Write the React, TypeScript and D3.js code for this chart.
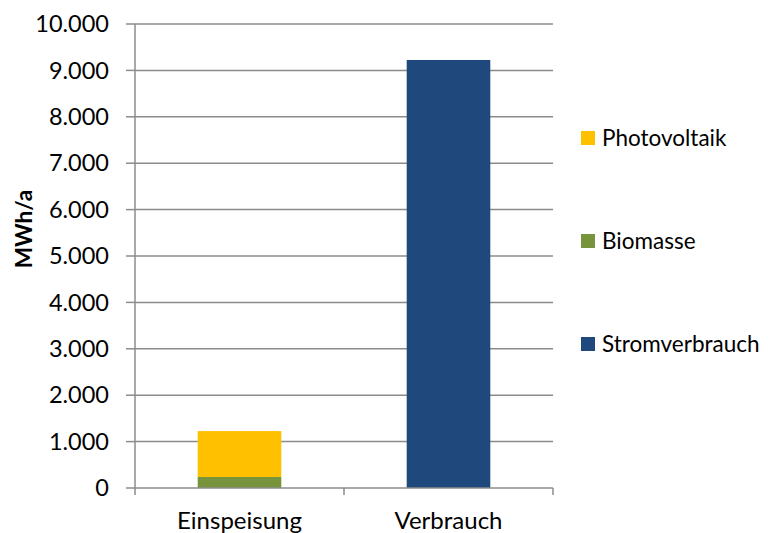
import React from 'react';
import * as d3 from 'd3';

// chart data
const categories = ['Einspeisung', 'Verbrauch'];
const seriesNames = ['Biomasse', 'Photovoltaik', 'Stromverbrauch'];
const biomasse = [237, 0];
const photovoltaik = [990, 0];
const stromverbrauch = [0, 9225];
const yTicks = [0, 1000, 2000, 3000, 4000, 5000, 6000, 7000, 8000, 9000, 10000];
const legendOrder = ['Photovoltaik', 'Biomasse', 'Stromverbrauch'];

const colors: Record<string, string> = {
  Biomasse: '#77933C',
  Photovoltaik: '#FFC000',
  Stromverbrauch: '#1F497D',
};

const W = 771;
const H = 533;
const left = 135;
const right = 553;
const top = 24;
const bottom = 488;
const font = 'Lato, "Open Sans", sans-serif';

export default function App() {
  const x = d3.scaleBand().domain(categories).range([left, right]).paddingInner(0.6).paddingOuter(0.3);
  const y = d3.scaleLinear().domain([0, 10000]).range([bottom, top]);

  const rows = categories.map((c, i) => ({
    cat: c,
    Biomasse: biomasse[i],
    Photovoltaik: photovoltaik[i],
    Stromverbrauch: stromverbrauch[i],
  }));
  const stacked = d3.stack<any>().keys(seriesNames)(rows);
  const fmt = (v: number) => d3.format(',')(v).replace(/,/g, '.');
  const step = (right - left) / categories.length;

  return (
    <svg width={W} height={H} style={{ position: 'absolute', left: 0, top: 0 }} fontFamily={font}>
      <rect width={W} height={H} fill="#fff" />
      {/* gridlines */}
      {yTicks.map((t) => (
        <g key={t}>
          {t > 0 && <line x1={left} x2={right} y1={y(t)} y2={y(t)} stroke="#8c8c8c" strokeWidth={1.5} />}
          <line x1={left - 9} x2={left} y1={y(t)} y2={y(t)} stroke="#8c8c8c" strokeWidth={1.5} />
          <text x={109} y={y(t)} dy="0.35em" textAnchor="end" fontSize={23.5} fill="#000">
            {fmt(t)}
          </text>
        </g>
      ))}
      {/* bars */}
      {stacked.map((s) => (
        <g key={s.key} fill={colors[s.key]}>
          {s.map((d, i) =>
            d[1] - d[0] > 0 ? (
              <rect key={i} x={x(categories[i])} width={x.bandwidth()} y={y(d[1])} height={y(d[0]) - y(d[1])} />
            ) : null
          )}
        </g>
      ))}
      {/* axes */}
      <line x1={left} x2={left} y1={top} y2={bottom} stroke="#8c8c8c" strokeWidth={1.5} />
      <line x1={left} x2={right} y1={bottom} y2={bottom} stroke="#8c8c8c" strokeWidth={1.5} />
      {d3.range(categories.length + 1).map((i) => (
        <line key={i} x1={left + i * step} x2={left + i * step} y1={bottom} y2={bottom + 7} stroke="#8c8c8c" strokeWidth={1.5} />
      ))}
      {categories.map((c) => (
        <text key={c} x={x(c)! + x.bandwidth() / 2} y={529} textAnchor="middle" fontSize={24} fill="#000">
          {c}
        </text>
      ))}
      <text transform="translate(32,229) rotate(-90)" textAnchor="middle" fontSize={22.5} fontWeight="bold" fill="#000">
        MWh/a
      </text>
      {/* legend */}
      {legendOrder.map((k, i) => (
        <g key={k} transform={`translate(581,${138 + i * 103})`}>
          <rect x={0} y={-7} width={14} height={14} fill={colors[k]} />
          <text x={21} y={0} dy="0.35em" fontSize={22.5} fill="#000">
            {k}
          </text>
        </g>
      ))}
    </svg>
  );
}
